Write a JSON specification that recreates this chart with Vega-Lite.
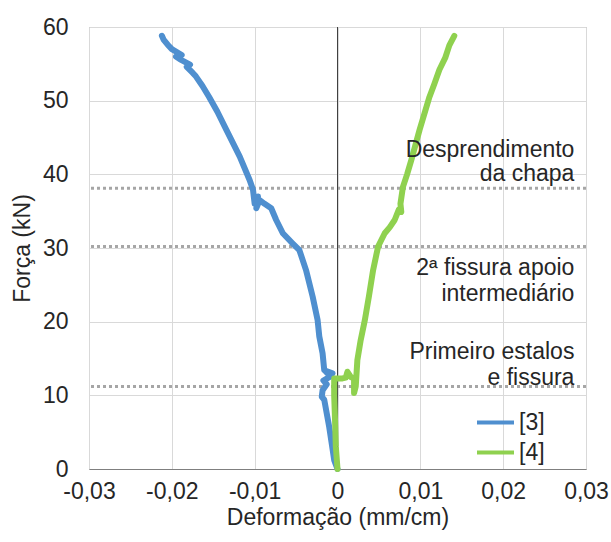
{
  "$schema": "https://vega.github.io/schema/vega-lite/v6.json",
  "autosize": "none",
  "width": 497,
  "height": 442,
  "padding": {"left": 89, "top": 27, "right": 25, "bottom": 73},
  "background": "white",
  "config": {
    "font": "Liberation Sans",
    "view": {"stroke": "#a6a6a6", "strokeWidth": 1},
    "axis": {"labelFont": "Liberation Sans", "titleFont": "Liberation Sans", "labelColor": "#262626", "titleColor": "#262626", "titleFontWeight": "normal", "labelFontSize": 23, "titleFontSize": 23}
  },
  "datasets": {
    "curves": [
      {"s": "[3]", "i": 0, "x": 0, "y": 0},
      {"s": "[3]", "i": 1, "x": -0.0004, "y": 1.2},
      {"s": "[3]", "i": 2, "x": -0.0007, "y": 3.5},
      {"s": "[3]", "i": 3, "x": -0.001, "y": 5.7},
      {"s": "[3]", "i": 4, "x": -0.0016, "y": 9.4},
      {"s": "[3]", "i": 5, "x": -0.0019, "y": 9.8},
      {"s": "[3]", "i": 6, "x": -0.0018, "y": 10.7},
      {"s": "[3]", "i": 7, "x": -0.0013, "y": 11.5},
      {"s": "[3]", "i": 8, "x": -0.0017, "y": 12.0},
      {"s": "[3]", "i": 9, "x": -0.0008, "y": 12.6},
      {"s": "[3]", "i": 10, "x": -0.0014, "y": 13.2},
      {"s": "[3]", "i": 11, "x": -0.0006, "y": 13.0},
      {"s": "[3]", "i": 12, "x": -0.0016, "y": 13.4},
      {"s": "[3]", "i": 13, "x": -0.0018, "y": 15.7},
      {"s": "[3]", "i": 14, "x": -0.0022, "y": 18.0},
      {"s": "[3]", "i": 15, "x": -0.0024, "y": 20.2},
      {"s": "[3]", "i": 16, "x": -0.003, "y": 23.4},
      {"s": "[3]", "i": 17, "x": -0.0038, "y": 27.0},
      {"s": "[3]", "i": 18, "x": -0.0046, "y": 29.7},
      {"s": "[3]", "i": 19, "x": -0.0054, "y": 30.6},
      {"s": "[3]", "i": 20, "x": -0.0066, "y": 32.0},
      {"s": "[3]", "i": 21, "x": -0.0074, "y": 33.8},
      {"s": "[3]", "i": 22, "x": -0.008, "y": 35.4},
      {"s": "[3]", "i": 23, "x": -0.0088, "y": 36.0},
      {"s": "[3]", "i": 24, "x": -0.0094, "y": 36.5},
      {"s": "[3]", "i": 25, "x": -0.0098, "y": 35.4},
      {"s": "[3]", "i": 26, "x": -0.0096, "y": 37.0},
      {"s": "[3]", "i": 27, "x": -0.01, "y": 36.0},
      {"s": "[3]", "i": 28, "x": -0.0102, "y": 37.9},
      {"s": "[3]", "i": 29, "x": -0.0106, "y": 39.2},
      {"s": "[3]", "i": 30, "x": -0.0118, "y": 42.4},
      {"s": "[3]", "i": 31, "x": -0.0134, "y": 46.0},
      {"s": "[3]", "i": 32, "x": -0.0145, "y": 48.5},
      {"s": "[3]", "i": 33, "x": -0.0155, "y": 50.5},
      {"s": "[3]", "i": 34, "x": -0.0163, "y": 52.0},
      {"s": "[3]", "i": 35, "x": -0.0171, "y": 53.3},
      {"s": "[3]", "i": 36, "x": -0.0175, "y": 53.8},
      {"s": "[3]", "i": 37, "x": -0.0182, "y": 54.6},
      {"s": "[3]", "i": 38, "x": -0.0178, "y": 54.9},
      {"s": "[3]", "i": 39, "x": -0.019, "y": 55.6},
      {"s": "[3]", "i": 40, "x": -0.0195, "y": 56.0},
      {"s": "[3]", "i": 41, "x": -0.0188, "y": 56.2},
      {"s": "[3]", "i": 42, "x": -0.02, "y": 57.0},
      {"s": "[3]", "i": 43, "x": -0.0205, "y": 57.6},
      {"s": "[3]", "i": 44, "x": -0.021, "y": 58.3},
      {"s": "[3]", "i": 45, "x": -0.0212, "y": 58.8},
      {"s": "[4]", "i": 0, "x": 0, "y": 0},
      {"s": "[4]", "i": 1, "x": -0.0002, "y": 3.0},
      {"s": "[4]", "i": 2, "x": -0.0003, "y": 6.7},
      {"s": "[4]", "i": 3, "x": -0.0004, "y": 10.0},
      {"s": "[4]", "i": 4, "x": -0.0004, "y": 12.3},
      {"s": "[4]", "i": 5, "x": 0.0006, "y": 12.3},
      {"s": "[4]", "i": 6, "x": 0.001, "y": 12.4},
      {"s": "[4]", "i": 7, "x": 0.0012, "y": 13.2},
      {"s": "[4]", "i": 8, "x": 0.0016, "y": 12.5},
      {"s": "[4]", "i": 9, "x": 0.002, "y": 12.3},
      {"s": "[4]", "i": 10, "x": 0.002, "y": 10.3},
      {"s": "[4]", "i": 11, "x": 0.0022, "y": 11.2},
      {"s": "[4]", "i": 12, "x": 0.0024, "y": 14.8},
      {"s": "[4]", "i": 13, "x": 0.0028, "y": 17.5},
      {"s": "[4]", "i": 14, "x": 0.0033, "y": 20.2},
      {"s": "[4]", "i": 15, "x": 0.0038, "y": 23.5},
      {"s": "[4]", "i": 16, "x": 0.0043, "y": 27.0},
      {"s": "[4]", "i": 17, "x": 0.0049, "y": 30.2},
      {"s": "[4]", "i": 18, "x": 0.0057, "y": 32.0},
      {"s": "[4]", "i": 19, "x": 0.0063, "y": 32.8},
      {"s": "[4]", "i": 20, "x": 0.0069, "y": 33.8},
      {"s": "[4]", "i": 21, "x": 0.0074, "y": 35.2},
      {"s": "[4]", "i": 22, "x": 0.0077, "y": 34.9},
      {"s": "[4]", "i": 23, "x": 0.0076, "y": 36.0},
      {"s": "[4]", "i": 24, "x": 0.0079, "y": 38.3},
      {"s": "[4]", "i": 25, "x": 0.0084, "y": 40.0},
      {"s": "[4]", "i": 26, "x": 0.0089, "y": 41.9},
      {"s": "[4]", "i": 27, "x": 0.0099, "y": 46.0},
      {"s": "[4]", "i": 28, "x": 0.0111, "y": 50.5},
      {"s": "[4]", "i": 29, "x": 0.0117, "y": 52.3},
      {"s": "[4]", "i": 30, "x": 0.0123, "y": 54.2},
      {"s": "[4]", "i": 31, "x": 0.013, "y": 55.8},
      {"s": "[4]", "i": 32, "x": 0.0135, "y": 57.5},
      {"s": "[4]", "i": 33, "x": 0.0141, "y": 58.8}
    ],
    "events": [{"y": 38.1}, {"y": 30.2}, {"y": 11.2}],
    "notes": [
      {"t": "Desprendimento", "x": 0.0286, "y": 42.4},
      {"t": "da chapa", "x": 0.0286, "y": 39.1},
      {"t": "2ª fissura apoio", "x": 0.0286, "y": 26.3},
      {"t": "intermediário", "x": 0.0286, "y": 22.8},
      {"t": "Primeiro estalos", "x": 0.0286, "y": 14.9},
      {"t": "e fissura", "x": 0.0286, "y": 11.4}
    ]
  },
  "layer": [
    {
      "data": {"name": "events"},
      "mark": {"type": "rule", "color": "#a6a6a6", "strokeWidth": 3, "strokeDash": [3, 3]},
      "encoding": {"y": {"field": "y", "type": "quantitative", "scale": {"domain": [0, 60]}}}
    },
    {
      "data": {"values": [{"x": 0}]},
      "mark": {"type": "rule", "color": "#404040", "strokeWidth": 1},
      "encoding": {"x": {"field": "x", "type": "quantitative", "scale": {"domain": [-0.03, 0.03]}}}
    },
    {
      "data": {"name": "curves"},
      "mark": {"type": "line", "strokeWidth": 6, "strokeJoin": "round", "strokeCap": "round"},
      "encoding": {
        "x": {
          "field": "x", "type": "quantitative",
          "scale": {"domain": [-0.03, 0.03], "nice": false, "zero": false},
          "axis": {
            "values": [-0.03, -0.02, -0.01, 0, 0.01, 0.02, 0.03],
            "labelExpr": "datum.value == 0 ? '0' : replace(replace(format(datum.value, '.2f'), '.', ','), '\u2212', '-')",
            "title": "Deformação (mm/cm)",
            "grid": true, "gridColor": "#d9d9d9",
            "domain": true, "domainColor": "#7f7f7f",
            "ticks": false, "labelPadding": 11, "titlePadding": 3,
            "labelFlush": false, "labelOverlap": false, "labelBound": false
          }
        },
        "y": {
          "field": "y", "type": "quantitative",
          "scale": {"domain": [0, 60], "nice": false},
          "axis": {
            "values": [0, 10, 20, 30, 40, 50, 60],
            "title": "Força (kN)",
            "grid": true, "gridColor": "#d9d9d9",
            "domain": false, "ticks": false, "labelPadding": 21, "titlePadding": 8,
            "labelFlush": false, "labelOverlap": false
          }
        },
        "order": {"field": "i", "type": "quantitative"},
        "color": {
          "field": "s", "type": "nominal",
          "scale": {"domain": ["[3]", "[4]"], "range": ["#4f8fcf", "#8fd14f"]},
          "legend": {
            "title": null, "orient": "none", "legendX": 386, "legendY": 384,
            "symbolType": "stroke", "symbolSize": 1369, "symbolStrokeWidth": 4,
            "clipHeight": 23,
            "labelFontSize": 23, "labelFont": "Liberation Sans", "labelColor": "#262626",
            "labelOffset": 3, "rowPadding": 6, "padding": 0
          }
        }
      }
    },
    {
      "data": {"name": "notes"},
      "mark": {"type": "text", "align": "right", "baseline": "alphabetic", "fontSize": 23, "font": "Liberation Sans", "color": "#262626"},
      "encoding": {
        "x": {"field": "x", "type": "quantitative"},
        "y": {"field": "y", "type": "quantitative"},
        "text": {"field": "t"}
      }
    }
  ]
}
